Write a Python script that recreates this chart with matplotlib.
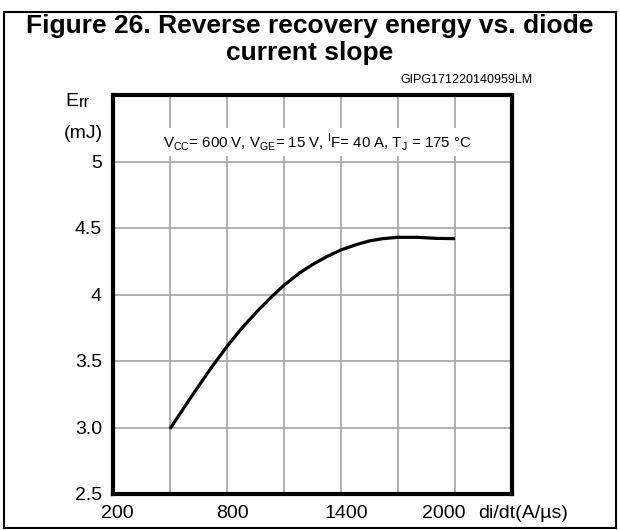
import numpy as np
import matplotlib
matplotlib.use("Agg")
import matplotlib.pyplot as plt
import matplotlib.transforms as mtransforms
from matplotlib.patches import Rectangle

plt.rcParams['font.family'] = ['Liberation Sans', 'DejaVu Sans']

# data
didt = [500, 600, 700, 800, 880, 960, 1040, 1100, 1180, 1250, 1325, 1400,
        1480, 1550, 1620, 1700, 1800, 1900, 2000]
err = [2.99, 3.205, 3.415, 3.61, 3.75, 3.875, 3.99, 4.07, 4.16, 4.225, 4.285, 4.335,
       4.375, 4.403, 4.42, 4.43, 4.43, 4.422, 4.42]

xgrid = [200, 500, 800, 1100, 1400, 1700, 2000, 2300]
xticks = [200, 800, 1400, 2000]
yticks = [2.5, 3.0, 3.5, 4.0, 4.5, 5.0]
ylabels = ['2.5', '3.0', '3.5', '4', '4.5', '5']

fig = plt.figure(figsize=(6.2, 5.3), dpi=100)
# outer frame
fig.patches.append(Rectangle((0.006, 0.004), 0.988, 0.974, transform=fig.transFigure,
                             fill=False, lw=1.5, ec='black'))

fig.text(0.5, 1-33/530, 'Figure 26. Reverse recovery energy vs. diode',
         ha='center', va='baseline', fontsize=19, fontweight='bold')
fig.text(0.5, 1-60/530, 'current slope', ha='center', va='baseline', fontsize=19,
         fontweight='bold')
fig.text(0.752, 0.849, 'GIPG171220140959LM', ha='center', va='center', fontsize=9)

ax = fig.add_axes([113/620, 1-494/530, 399/620, 399/530])
ax.plot(didt, err, color='black', lw=2.3, solid_capstyle='butt')

ax.set_xlim(200, 2300)
ax.set_ylim(2.5, 5.5)
ax.set_xticks(xgrid, minor=True)
ax.set_xticks(xticks)
ax.set_yticks(yticks, ylabels)
ax.grid(True, which='both', color='#aaaaaa', lw=1.3)
ax.set_axisbelow(True)
ax.tick_params(which='both', length=0, labelsize=14)
ax.tick_params(axis='y', pad=8)
ax.tick_params(axis='x', pad=8)
for s in ax.spines.values():
    s.set_linewidth(3)

# x labels sit a little off the grid lines in the original
shifts = [4, 5, 5, -11]
for lab, dx in zip(ax.get_xticklabels(), shifts):
    lab.set_transform(lab.get_transform() +
                      mtransforms.ScaledTranslation(dx/100, 0, fig.dpi_scale_trans))

fig.text(478/620, 1-514/530, 'di/dt(A/µs)', ha='left', va='center', fontsize=14)
fig.text(65/620, 1-106/530, 'E', ha='left', va='baseline', fontsize=14)
fig.text(79/620, 1-107/530, 'rr', ha='left', va='baseline', fontsize=12)
fig.text(64/620, 1-134/530, '(mJ)', ha='left', va='center', fontsize=14)

fig.text(163/620, 1-142/530,
         r'V$_\mathregular{CC}$= 600 V, V$_\mathregular{GE}$= 15 V, $^\mathregular{I}$F= 40 A, T$_\mathregular{J}$ = 175 °C',
         ha='left', va='center', fontsize=10.8,
         bbox=dict(fc='white', ec='none', pad=2))

fig.savefig('out.png', dpi=100)
